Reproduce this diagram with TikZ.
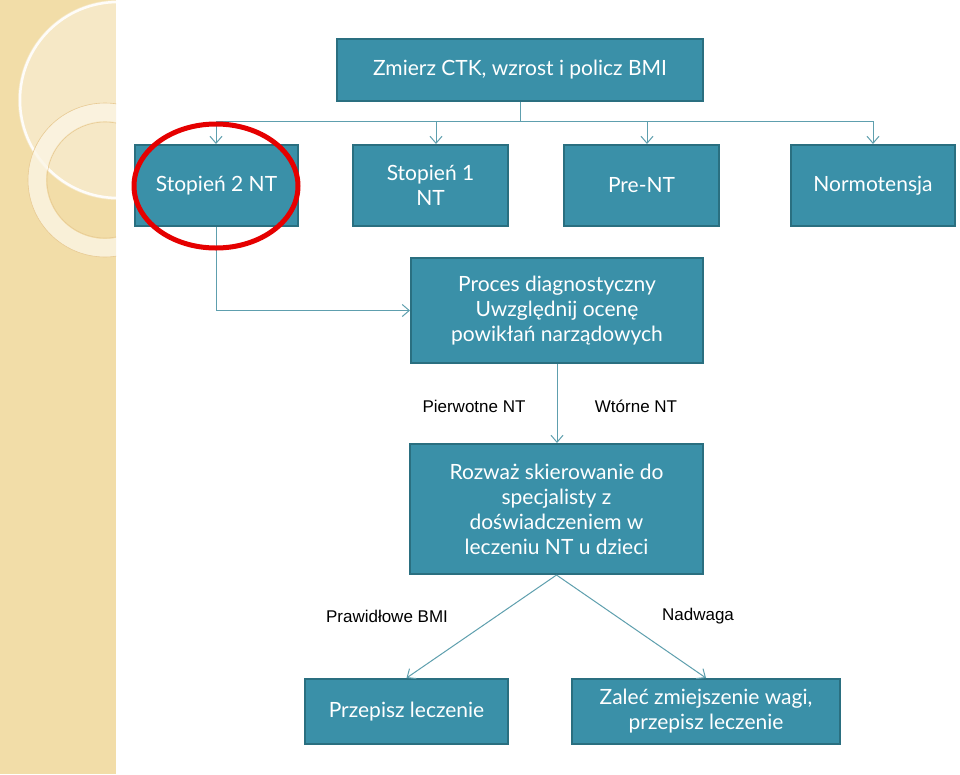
\documentclass[tikz,border=0pt]{standalone}
\usepackage{fontspec}
\setmainfont{Lato}
\newfontfamily\arialf{Liberation Sans}
\usetikzlibrary{arrows.meta}
\definecolor{boxfill}{HTML}{3A90A8}
\definecolor{boxline}{HTML}{2A6F80}
\definecolor{conn}{HTML}{5E9FAE}
\definecolor{tan}{HTML}{F2DDA8}
\tikzset{
  bx/.style={draw=boxline,line width=2pt,fill=boxfill,text=white,align=center,inner sep=0pt,font=\fontsize{21}{25}\selectfont},
  cn/.style={draw=conn,line width=1pt,-{Straight Barb[length=7pt,width=12pt]}},
  ln/.style={draw=conn,line width=1pt},
  lbl/.style={font=\arialf\fontsize{17}{20}\selectfont,text=black}
}
\begin{document}
\begin{tikzpicture}[x=1pt,y=-1pt]
\useasboundingbox (0,0) rectangle (960,774);
\fill[white] (0,0) rectangle (960,774);
\begin{scope}
\clip (0,0) rectangle (116,774);
\fill[tan] (0,0) rectangle (116,774);
\fill[white,opacity=0.35] (118,100) circle (100);
\draw[white,line width=2.5pt,opacity=0.9] (118,100) circle (98);
\draw[white!70!tan,line width=18pt,opacity=0.8] (105,180) circle (68);
\draw[tan!80!brown,line width=0.6pt] (105,180) circle (77);
\draw[tan!80!brown,line width=0.6pt] (105,180) circle (58);
\end{scope}
\node[bx,minimum width=366,minimum height=62] (top) at (520,70) {Zmierz CTK, wzrost i policz BMI};
\node[bx,minimum width=163,minimum height=81] (s2) at (216.5,185.5) {Stopień 2 NT};
\node[bx,minimum width=155,minimum height=81] (s1) at (430.5,185.5) {Stopień 1\\NT};
\node[bx,minimum width=155,minimum height=81] (pre) at (641.5,185.5) {Pre-NT};
\node[bx,minimum width=164,minimum height=81] (nor) at (873,185.5) {Normotensja};
\node[bx,minimum width=292,minimum height=105] (proc) at (557,310.5) {Proces diagnostyczny\\Uwzględnij ocenę\\powikłań narządowych};
\node[bx,minimum width=293,minimum height=130] (roz) at (556.5,509) {Rozważ skierowanie do\\specjalisty z\\doświadczeniem w\\leczeniu NT u dzieci};
\node[bx,minimum width=203,minimum height=65] (prz) at (406.5,711.5) {Przepisz leczenie};
\node[bx,minimum width=268,minimum height=65] (zal) at (706,711.5) {Zaleć zmiejszenie wagi,\\przepisz leczenie};
\coordinate (hub) at (520,121);
\draw[ln] (top.south) -- (hub);
\draw[ln] (216,121) -- (873,121);
\draw[cn] (216,121) -- (s2.north -| 216,0);
\draw[cn] (436,121) -- (s1.north -| 436,0);
\draw[cn] (647,121) -- (pre.north -| 647,0);
\draw[cn] (873,121) -- (nor.north);
\draw[cn] (s2.south) |- (proc.west);
\draw[cn] (proc.south) -- (proc.south |- roz.north);
\draw[cn] (roz.south) -- (prz.north);
\draw[cn] (roz.south) -- (zal.north);
\node[lbl] (l1) at (474,406) {Pierwotne NT};
\node[lbl] (l2) at (636,406) {Wtórne NT};
\node[lbl] (l3) at (387,616) {Prawidłowe BMI};
\node[lbl] (l4) at (698,616) {Nadwaga};
\draw[red!90!black,line width=5pt] (216,186) ellipse (82 and 62);
\end{tikzpicture}
\end{document}
